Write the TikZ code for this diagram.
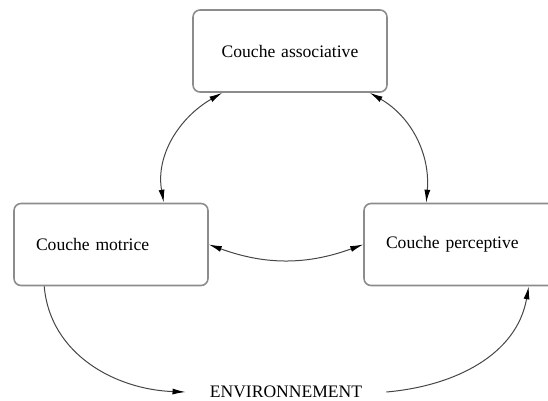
\documentclass[tikz,border=0pt]{standalone}
\usepackage{fontspec}
\setmainfont{Liberation Serif}
\usetikzlibrary{arrows.meta}
\begin{document}
\begin{tikzpicture}[x=0.02cm,y=0.02cm,font=\normalsize,
  >={Latex[length=0.26cm,width=0.12cm,color=black]},
  couche/.style={draw=boxgray,line width=0.032cm,rounded corners=0.14cm,
    minimum height=1.64cm,text width=3cm,inner xsep=0.44cm,inner ysep=0pt},
  lien/.style={draw=linkgray,line width=0.02cm}]
  \definecolor{boxgray}{RGB}{140,140,140}
  \definecolor{linkgray}{RGB}{70,70,70}

  \clip (0,0) rectangle (548,400);

  \node[couche,align=center] (assoc) at (290,349) {Couche associative};
  \node[couche,align=left] (motrice) at (111,155.5) {Couche motrice};
  \node[couche,align=left] (percept) at (461,155.5) {Couche perceptive};
  \node[inner xsep=0.48cm] (env) at (286,8) {ENVIRONNEMENT};

  \draw[lien,<->] ([xshift=0.6cm]assoc.south west) to[out=210,in=100] ([xshift=-0.9cm]motrice.north east);
  \draw[lien,<->] ([xshift=-0.36cm]assoc.south east) to[out=-30,in=85] ([xshift=1.26cm]percept.north west);
  \draw[lien,<->] (motrice.east) to[out=-20,in=200] (percept.west);
  \draw[lien,->] ([xshift=0.62cm]motrice.south west) to[out=-85,in=178] (env.west);
  \draw[lien,->] (env.east) to[out=5,in=-100] ([xshift=-0.6cm]percept.south east);
\end{tikzpicture}
\end{document}
